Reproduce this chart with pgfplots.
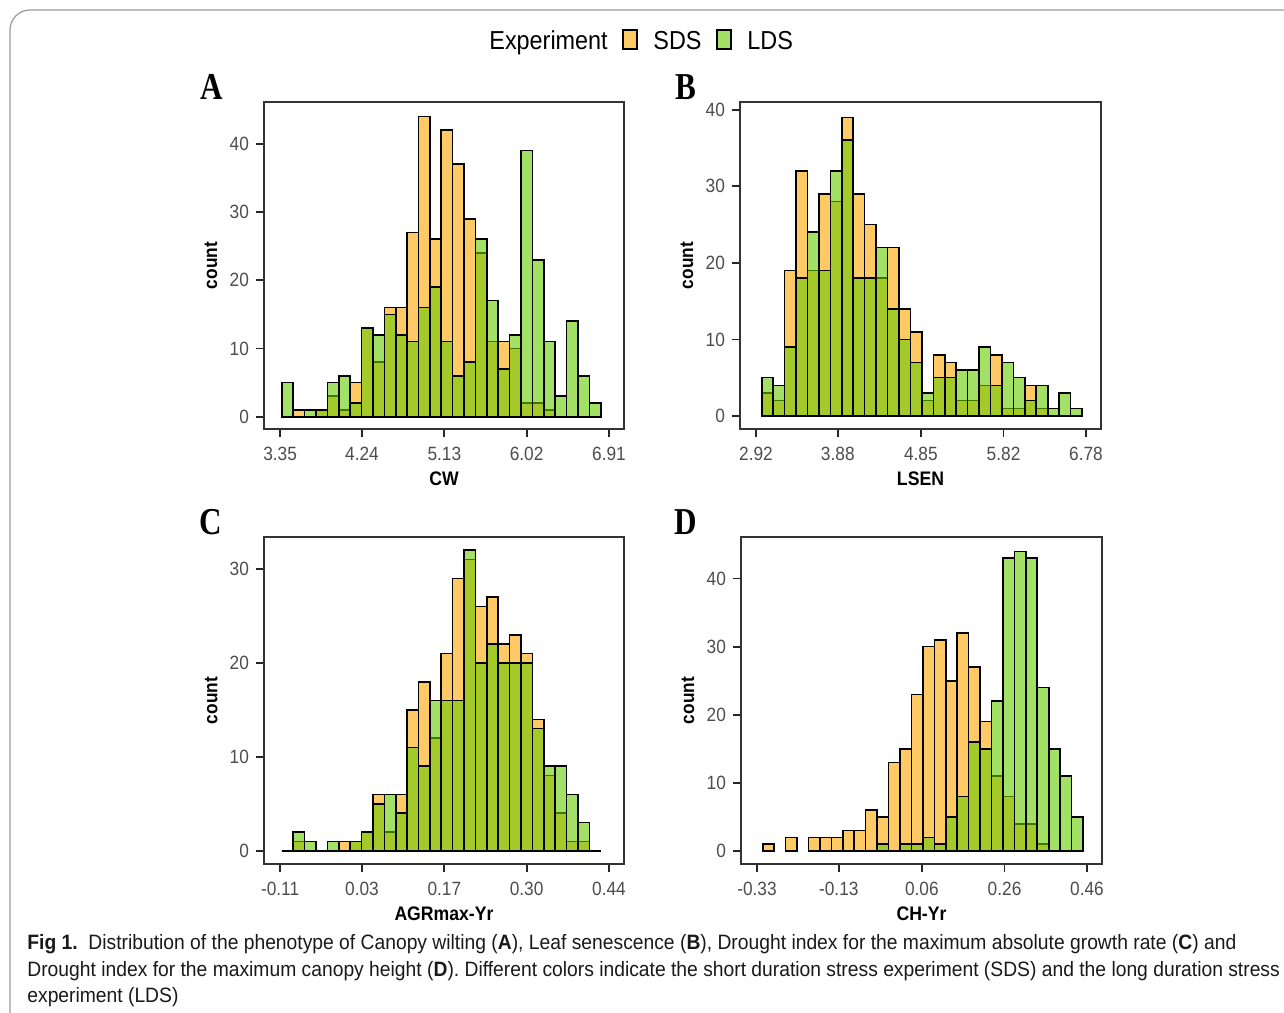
\documentclass[border=0pt]{standalone}
\usepackage{pgfplots}
\pgfplotsset{compat=1.18}
\usepackage{fontspec}
\setmainfont{Liberation Sans}[FakeStretch=0.9]
\newfontfamily\capfont{Liberation Sans}[FakeStretch=0.927]
\newfontfamily\letterfont{Liberation Serif}[FakeStretch=0.82]

\definecolor{sds}{RGB}{255,165,0}
\definecolor{lds}{RGB}{102,204,0}
\definecolor{sdskey}{RGB}{255,201,102}
\definecolor{ldskey}{RGB}{163,224,102}
\definecolor{tickgray}{RGB}{77,77,77}

\pgfplotsset{
  hist/.style={
    scale only axis, width=180pt, height=163.5pt, anchor=south west,
    axis line style={black!80, line width=0.6pt},
    xtick pos=bottom, ytick pos=left, tick align=outside,
    major tick length=4pt,
    tick style={black!85, line width=0.9pt},
    /pgf/number format/assume math mode=true,
    xticklabel style={font=\fontsize{9.6}{11}\selectfont, text=tickgray, yshift=-1.5pt},
    yticklabel style={font=\fontsize{9.6}{11}\selectfont, text=tickgray},
    xlabel style={font=\bfseries\fontsize{9.8}{11}\selectfont,
      at={(axis description cs:0.5,-0.174)}, anchor=base},
    ylabel style={font=\bfseries\fontsize{9.6}{11}\selectfont,
      at={(axis description cs:-0.147,0.5)}, anchor=center},
    ylabel={count},
  },
  sdsbar/.style={ybar, bar width=1, bar shift=0pt, fill=sds, fill opacity=0.6,
    draw=black, line width=0.8pt},
  ldsbar/.style={ybar, bar width=1, bar shift=0pt, fill=lds, fill opacity=0.6,
    draw=black, line width=0.8pt},
}

\begin{document}
\begin{tikzpicture}

% A: canopy wilting
\begin{axis}[hist, at={(132pt,-214.5pt)},
  xmin=-1.06, xmax=30.54, ymin=-1.8, ymax=46.1,
  xtick={0.35,7.54,14.77,21.99,29.22}, xticklabels={3.35,4.24,5.13,6.02,6.91},
  ytick={0,10,20,30,40}, xlabel={CW}]
\addplot[sdsbar] coordinates {(2,1) (4,1) (5,3) (6,1) (7,5) (8,13) (9,8) (10,16)
  (11,16) (12,27) (13,44) (14,26) (15,42) (16,37) (17,29) (18,24) (19,11) (20,11)
  (21,10) (22,2) (23,2) (24,1)};
\addplot[ldsbar] coordinates {(1,5) (3,1) (4,1) (5,5) (6,6) (7,2) (8,13) (9,12)
  (10,15) (11,12) (12,11) (13,16) (14,19) (15,11) (16,6) (17,8) (18,26) (19,17)
  (20,7) (21,12) (22,39) (23,23) (24,11) (25,3) (26,14) (27,6) (28,2)};
\end{axis}

% B: leaf senescence
\begin{axis}[hist, at={(370pt,-214.5pt)}, width=180.5pt,
  xmin=-1.40, xmax=30.16, ymin=-1.7, ymax=41.0,
  xtick={0,7.15,14.41,21.64,28.85}, xticklabels={2.92,3.88,4.85,5.82,6.78},
  ytick={0,10,20,30,40}, xlabel={LSEN}]
\addplot[sdsbar] coordinates {(1,3) (2,2) (3,19) (4,32) (5,19) (6,29) (7,28) (8,39)
  (9,29) (10,25) (11,18) (12,22) (13,14) (14,11) (15,2) (16,8) (17,7) (18,2) (19,2)
  (20,4) (21,8) (22,1) (23,1) (24,4) (25,1)};
\addplot[ldsbar] coordinates {(1,5) (2,4) (3,9) (4,18) (5,24) (6,19) (7,32) (8,36)
  (9,18) (10,18) (11,22) (12,14) (13,10) (14,7) (15,3) (16,5) (17,5) (18,6) (19,6)
  (20,9) (21,4) (22,7) (23,5) (24,2) (25,4) (26,1) (27,3) (28,1)};
\end{axis}

% C: AGRmax drought index
\begin{axis}[hist, at={(132pt,-432pt)},
  xmin=-1.06, xmax=30.54, ymin=-1.4, ymax=33.4,
  xtick={0.35,7.54,14.77,21.99,29.22}, xticklabels={-0.11,0.03,0.17,0.30,0.44},
  ytick={0,10,20,30}, xlabel={AGRmax-Yr}]
\addplot[sdsbar] coordinates {(2,1) (6,1) (7,1) (8,2) (9,6) (10,2) (11,6) (12,15)
  (13,18) (14,12) (15,21) (16,29) (17,31) (18,26) (19,27) (20,22) (21,23) (22,21)
  (23,14) (24,8) (25,4) (26,1) (27,1)};
\addplot[ldsbar] coordinates {(1,0) (2,2) (3,1) (4,0) (5,1) (7,1) (8,2) (9,5) (10,6)
  (11,4) (12,11) (13,9) (14,16) (15,16) (16,16) (17,32) (18,20) (19,22) (20,20)
  (21,20) (22,20) (23,13) (24,9) (25,9) (26,6) (27,3) (28,0)};
\end{axis}

% D: CH drought index
\begin{axis}[hist, at={(370.5pt,-432pt)}, width=180.5pt,
  xmin=-1.40, xmax=30.16, ymin=-1.9, ymax=46.1,
  xtick={0,7.15,14.41,21.64,28.85}, xticklabels={-0.33,-0.13,0.06,0.26,0.46},
  ytick={0,10,20,30,40}, xlabel={CH-Yr}]
\addplot[sdsbar] coordinates {(1,1) (3,2) (5,2) (6,2) (7,2) (8,3) (9,3) (10,6)
  (11,5) (12,13) (13,15) (14,23) (15,30) (16,31) (17,25) (18,32) (19,27) (20,19)
  (21,11) (22,8) (23,4) (24,4) (25,1)};
\addplot[ldsbar] coordinates {(11,1) (13,1) (14,1) (15,2) (16,1) (17,5) (18,8)
  (19,16) (20,15) (21,22) (22,43) (23,44) (24,43) (25,24) (26,15) (27,11) (28,5)};
\end{axis}

\begin{scope}[x=0.5pt, y=-0.5pt]
  % figure frame
  \draw[black!40, line width=0.6pt, rounded corners=10] (1300,10) -- (10,10) -- (10,1030);
  % panel letters
  \node[font=\letterfont\bfseries\fontsize{19}{20}\selectfont] at (212,87) {A};
  \node[font=\letterfont\bfseries\fontsize{19}{20}\selectfont] at (686,87) {B};
  \node[font=\letterfont\bfseries\fontsize{19}{20}\selectfont] at (211,522) {C};
  \node[font=\letterfont\bfseries\fontsize{19}{20}\selectfont] at (686,522) {D};
  % legend
  \node[anchor=base west, inner sep=0pt, font=\fontsize{13}{14}\selectfont] at (489,49) {Experiment};
  \draw[black, line width=0.75pt, fill=sdskey] (623,30) rectangle (637,49);
  \node[anchor=base west, inner sep=0pt, font=\fontsize{13}{14}\selectfont] at (653,49) {SDS};
  \draw[black, line width=0.75pt, fill=ldskey] (717,30) rectangle (731,49);
  \node[anchor=base west, inner sep=0pt, font=\fontsize{13}{14}\selectfont] at (747,49) {LDS};
  % caption
  \begin{scope}[every node/.style={anchor=base west, inner sep=0pt, text=black!90,
      font=\capfont\fontsize{10.4}{12}\selectfont}]
    \node at (27,949) {\textbf{Fig 1.}\ \ Distribution of the phenotype of Canopy wilting (\textbf{A}), Leaf senescence (\textbf{B}), Drought index for the maximum absolute growth rate (\textbf{C}) and};
    \node at (27,976) {Drought index for the maximum canopy height (\textbf{D}). Different colors indicate the short duration stress experiment (SDS) and the long duration stress};
    \node at (27,1002) {experiment (LDS)};
  \end{scope}
  \pgfresetboundingbox
  \path (0,0) rectangle (1284,1012);
\end{scope}
\end{tikzpicture}
\end{document}
